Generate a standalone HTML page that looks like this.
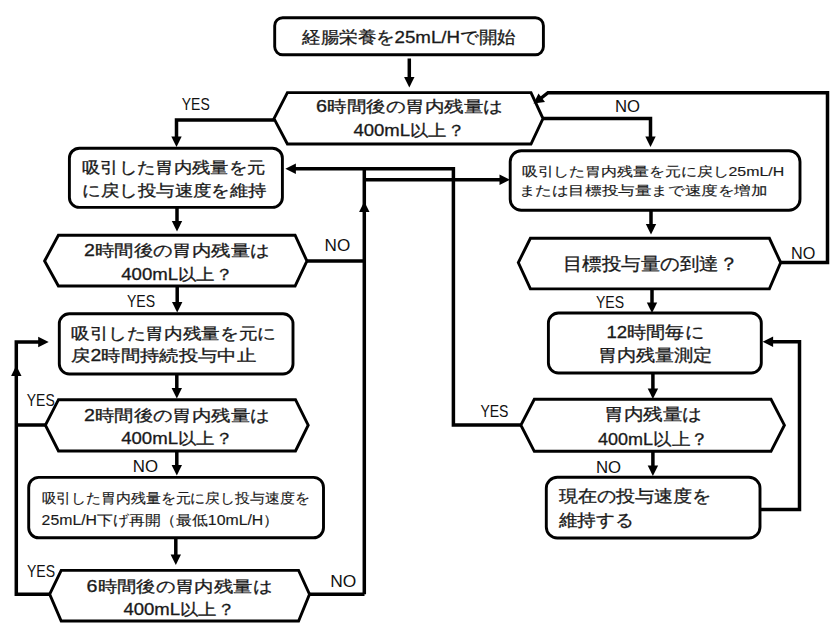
<!DOCTYPE html>
<html><head><meta charset="utf-8"><style>
html,body{margin:0;padding:0;background:#fff;width:837px;height:631px;overflow:hidden}
svg{display:block}
text{font-family:"Liberation Sans",sans-serif;fill:#1a1a1a;stroke:#1a1a1a;stroke-width:0.3px}
.lb{fill:#111;stroke:none}
.s{fill:#fff;stroke:#000;stroke-width:2.9;stroke-linejoin:miter}
.l{fill:none;stroke:#000;stroke-width:3.5;stroke-linejoin:miter;stroke-linecap:butt}
.a{fill:#000;stroke:none}
</style></head><body>
<svg width="837" height="631" viewBox="0 0 837 631">
<rect x="274.7" y="17.7" width="268.7" height="37.1" rx="8" ry="8" class="s"/>
<polyline points="409.3,58.5 409.3,81.5" class="l"/>
<polygon points="409.3,87.5 404.1,77.0 414.5,77.0" class="a"/>
<polygon points="274,118.6 287.4,92.6 531,92.6 543,118.6 531,144 287.4,144" class="s"/>
<polyline points="274,120 176.5,120 176.5,140" class="l"/>
<polygon points="176.5,147.0 171.3,136.5 181.7,136.5" class="a"/>
<polyline points="543,118.6 650.5,118.6 650.5,140" class="l"/>
<polygon points="650.5,147.0 645.3,136.5 655.7,136.5" class="a"/>
<polyline points="780.7,262.4 827.5,262.4 827.5,92.7 548,92.7 540,99" class="l"/>
<polygon points="533.5,103.5 538.5,93.5 545,102" class="a"/>
<rect x="69.4" y="148.2" width="213.0" height="59.2" rx="10" ry="10" class="s"/>
<polyline points="177,207.4 177,225.5" class="l"/>
<polygon points="177.0,231.5 171.8,221.0 182.2,221.0" class="a"/>
<rect x="510.2" y="150.8" width="289.8" height="59.5" rx="11" ry="11" class="s"/>
<polyline points="651,210.3 651,228.5" class="l"/>
<polygon points="651.0,234.5 645.8,224.0 656.2,224.0" class="a"/>
<polygon points="518.3,262.6 530.4,238.3 769.4,238.3 780.7,262.6 769.4,288.9 530.4,288.9" class="s"/>
<polyline points="652,288.2 652,307" class="l"/>
<polygon points="652.0,313.0 646.8,302.5 657.2,302.5" class="a"/>
<rect x="548.4" y="313" width="212.9" height="60.0" rx="10" ry="10" class="s"/>
<polyline points="652.9,373 652.9,393" class="l"/>
<polygon points="652.9,399.0 647.7,388.5 658.1,388.5" class="a"/>
<polygon points="520.9,425.2 534.3,399.3 771,399.3 784.4,425.2 771,451.3 534.3,451.3" class="s"/>
<polyline points="520.9,425 453.4,425 453.4,168.7 292,168.7" class="l"/>
<polygon points="285.4,168.7 295.9,163.5 295.9,173.9" class="a"/>
<polyline points="652.9,451.3 652.9,470" class="l"/>
<polygon points="652.9,476.0 647.7,465.5 658.1,465.5" class="a"/>
<rect x="546.3" y="477.3" width="213.7" height="60.7" rx="11" ry="11" class="s"/>
<polyline points="760,509.4 799.5,509.4 799.5,341.8 769,341.8" class="l"/>
<polygon points="762.6,341.8 773.1,336.6 773.1,347.0" class="a"/>
<polygon points="44.6,261 58.4,235.2 295.1,235.2 306.9,261 295.1,286 58.4,286" class="s"/>
<polyline points="306.9,261 364,261" class="l"/>
<polyline points="364.3,594.2 364.3,168.7" class="l"/>
<polyline points="364.3,179.8 503,179.8" class="l"/>
<polygon points="510.0,179.8 499.5,174.6 499.5,185.0" class="a"/>
<polygon points="364.3,201.5 359.1,212.0 369.5,212.0" class="a"/>
<polyline points="177.2,286 177.2,306.5" class="l"/>
<polygon points="177.2,312.5 172.0,302.0 182.4,302.0" class="a"/>
<rect x="59.3" y="313.8" width="233.7" height="60.2" rx="10" ry="10" class="s"/>
<polyline points="176.8,374 176.8,392.5" class="l"/>
<polygon points="176.8,398.5 171.6,388.0 182.0,388.0" class="a"/>
<polygon points="45.4,425.2 58.5,399.7 295.5,399.7 308.2,425.2 295.5,451 58.5,451" class="s"/>
<polyline points="45.4,425 16.3,425" class="l"/>
<polyline points="16.3,595.9 16.3,342 42,342" class="l"/>
<polygon points="48.7,342.0 38.2,336.8 38.2,347.2" class="a"/>
<polygon points="16.3,365.5 11.1,376.0 21.5,376.0" class="a"/>
<polyline points="176.8,451.2 176.8,469.6" class="l"/>
<polygon points="176.8,475.6 171.6,465.1 182.0,465.1" class="a"/>
<rect x="28.7" y="477.4" width="294.8" height="60.4" rx="10" ry="10" class="s"/>
<polyline points="175.8,537.8 175.8,559" class="l"/>
<polygon points="175.8,565.0 170.6,554.5 181.0,554.5" class="a"/>
<polygon points="49.7,594.2 61.2,570.4 298.6,570.4 309.5,594.2 298.6,621 61.2,621" class="s"/>
<polyline points="49.7,594.2 16.3,594.2" class="l"/>
<polyline points="309.5,594.2 364.5,594.2" class="l"/>
<text class="t" x="302.00" y="43.40" font-size="17.20" textLength="213.60" lengthAdjust="spacingAndGlyphs">経腸栄養を25mL/Hで開始</text>
<text class="t" x="316.00" y="112.25" font-size="16.20" textLength="187.04" lengthAdjust="spacingAndGlyphs">6時間後の胃内残量は</text>
<text class="t" x="353.40" y="135.55" font-size="16.20" textLength="111.63" lengthAdjust="spacingAndGlyphs">400mL以上？</text>
<text class="t" x="82.00" y="172.55" font-size="16.30" textLength="183.24" lengthAdjust="spacingAndGlyphs">吸引した胃内残量を元</text>
<text class="t" x="82.40" y="195.65" font-size="16.30" textLength="184.25" lengthAdjust="spacingAndGlyphs">に戻し投与速度を維持</text>
<text class="t" style="stroke-width:0.15px" x="521.60" y="175.75" font-size="13.00" textLength="262.63" lengthAdjust="spacingAndGlyphs">吸引した胃内残量を元に戻し25mL/H</text>
<text class="t" style="stroke-width:0.15px" x="518.60" y="195.30" font-size="13.00" textLength="248.89" lengthAdjust="spacingAndGlyphs">または目標投与量まで速度を増加</text>
<text class="t" x="563.00" y="270.25" font-size="17.50" textLength="175.41" lengthAdjust="spacingAndGlyphs">目標投与量の到達？</text>
<text class="t" x="606.40" y="337.90" font-size="16.50" textLength="97.30" lengthAdjust="spacingAndGlyphs">12時間毎に</text>
<text class="t" x="597.60" y="360.50" font-size="16.50" textLength="114.76" lengthAdjust="spacingAndGlyphs">胃内残量測定</text>
<text class="t" x="604.00" y="420.30" font-size="16.50" textLength="98.05" lengthAdjust="spacingAndGlyphs">胃内残量は</text>
<text class="t" x="598.00" y="445.40" font-size="16.50" textLength="110.59" lengthAdjust="spacingAndGlyphs">400mL以上？</text>
<text class="t" x="558.60" y="501.95" font-size="16.50" textLength="152.64" lengthAdjust="spacingAndGlyphs">現在の投与速度を</text>
<text class="t" x="558.60" y="525.90" font-size="16.50" textLength="74.76" lengthAdjust="spacingAndGlyphs">維持する</text>
<text class="t" x="84.00" y="256.25" font-size="16.20" textLength="185.45" lengthAdjust="spacingAndGlyphs">2時間後の胃内残量は</text>
<text class="t" x="121.20" y="280.40" font-size="16.20" textLength="112.06" lengthAdjust="spacingAndGlyphs">400mL以上？</text>
<text class="t" x="71.00" y="339.25" font-size="16.00" textLength="204.85" lengthAdjust="spacingAndGlyphs">吸引した胃内残量を元に</text>
<text class="t" x="71.00" y="360.75" font-size="16.00" textLength="185.23" lengthAdjust="spacingAndGlyphs">戻2時間持続投与中止</text>
<text class="t" x="84.00" y="421.45" font-size="16.20" textLength="185.44" lengthAdjust="spacingAndGlyphs">2時間後の胃内残量は</text>
<text class="t" x="121.20" y="443.95" font-size="16.20" textLength="112.01" lengthAdjust="spacingAndGlyphs">400mL以上？</text>
<text class="t" style="stroke-width:0.15px" x="41.60" y="503.30" font-size="14.00" textLength="267.82" lengthAdjust="spacingAndGlyphs">吸引した胃内残量を元に戻し投与速度を</text>
<text class="t" style="stroke-width:0.15px" x="41.60" y="524.80" font-size="14.00" textLength="237.52" lengthAdjust="spacingAndGlyphs">25mL/H下げ再開（最低10mL/H）</text>
<text class="t" x="86.60" y="591.55" font-size="16.20" textLength="185.42" lengthAdjust="spacingAndGlyphs">6時間後の胃内残量は</text>
<text class="t" x="123.40" y="615.45" font-size="16.20" textLength="111.63" lengthAdjust="spacingAndGlyphs">400mL以上？</text>
<text class="lb" x="181.80" y="109.55" font-size="16.50" textLength="27.89" lengthAdjust="spacingAndGlyphs">YES</text>
<text class="lb" x="615.00" y="112.00" font-size="16.50" textLength="25.05" lengthAdjust="spacingAndGlyphs">NO</text>
<text class="lb" x="324.60" y="250.50" font-size="16.50" textLength="25.67" lengthAdjust="spacingAndGlyphs">NO</text>
<text class="lb" x="127.00" y="307.05" font-size="16.50" textLength="28.11" lengthAdjust="spacingAndGlyphs">YES</text>
<text class="lb" x="596.00" y="308.00" font-size="16.50" textLength="28.11" lengthAdjust="spacingAndGlyphs">YES</text>
<text class="lb" x="791.00" y="258.55" font-size="16.50" textLength="24.31" lengthAdjust="spacingAndGlyphs">NO</text>
<text class="lb" x="480.40" y="417.45" font-size="16.50" textLength="28.11" lengthAdjust="spacingAndGlyphs">YES</text>
<text class="lb" x="26.80" y="406.40" font-size="16.50" textLength="27.89" lengthAdjust="spacingAndGlyphs">YES</text>
<text class="lb" x="132.80" y="472.00" font-size="16.50" textLength="25.22" lengthAdjust="spacingAndGlyphs">NO</text>
<text class="lb" x="596.00" y="473.05" font-size="16.50" textLength="25.13" lengthAdjust="spacingAndGlyphs">NO</text>
<text class="lb" x="27.00" y="576.60" font-size="16.50" textLength="28.11" lengthAdjust="spacingAndGlyphs">YES</text>
<text class="lb" x="330.20" y="587.40" font-size="16.50" textLength="26.11" lengthAdjust="spacingAndGlyphs">NO</text>
</svg></body></html>
